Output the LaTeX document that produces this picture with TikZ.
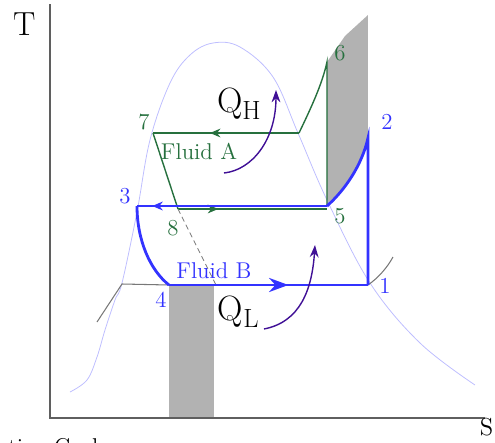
\documentclass[tikz,border=0pt]{standalone}
\usetikzlibrary{arrows.meta,decorations.markings}

\definecolor{cyblue}{RGB}{51,51,255}
\definecolor{cygreen}{RGB}{38,112,62}
\definecolor{cydome}{RGB}{190,190,255}
\definecolor{cyshade}{RGB}{178,178,178}
\definecolor{cyheat}{RGB}{64,16,150}
\definecolor{cyaxis}{RGB}{95,95,95}
\definecolor{cyiso}{RGB}{120,120,120}

\begin{document}
\begin{tikzpicture}[
  x=0.02cm,
  y=-0.02cm,
  every node/.style={inner sep=0pt, outer sep=0pt},
  numA/.style={font=\fontsize{13}{13}\selectfont, text=cygreen},
  numB/.style={font=\fontsize{13}{13}\selectfont, text=cyblue},
  axislabel/.style={font=\fontsize{19}{19}\selectfont, text=black},
  qlabel/.style={font=\fontsize{20}{20}\selectfont, text=black, anchor=base west},
  fluid/.style={font=\fontsize{13}{13}\selectfont},
  axis/.style={draw=cyaxis, line width=0.9pt},
  dome/.style={draw=cydome, line width=0.45pt},
  shade/.style={fill=cyshade, draw=none},
  cycA/.style={draw=cygreen, line width=0.8pt},
  cycB/.style={draw=cyblue, line width=1.6pt},
  iso/.style={draw=cyiso, line width=0.6pt},
  heat/.style={draw=cyheat, line width=0.8pt, -{Stealth[length=7pt, width=5pt]}},
  midarrow/.style={postaction={decorate}, decoration={markings,
      mark=at position #1 with {\arrow{Stealth[length=6pt, width=5pt]}}}},
  bigarrow/.style={postaction={decorate}, decoration={markings,
      mark=at position #1 with {\arrow{Stealth[length=11pt, width=8pt]}}}}
]

  \path[use as bounding box] (0,0) rectangle (495,443);

  % State points
  \coordinate (p1) at (368,285);
  \coordinate (p2) at (368,138);
  \coordinate (p3) at (137,206);
  \coordinate (p4) at (169,285);
  \coordinate (p5) at (327,206);
  \coordinate (p6) at (327,62);
  \coordinate (p7) at (153,133);
  \coordinate (p8) at (178,209);
  \coordinate (p5a) at (327,209);
  \coordinate (knee) at (299,133);

  % Shaded areas
  \fill[shade] (p4) rectangle (214,418);
  \fill[shade] (p5) -- (p6) -- (345,36) -- (368,15) -- (p2)
    .. controls (362,165) and (345,190) .. (p5) -- cycle;

  % Axes
  \coordinate (origin) at (50,418);
  \draw[axis] (50,4) -- (origin) -- (485,418);
  \node[axislabel, anchor=base west] (tlab) at (13,35) {T};
  \node[font=\fontsize{14}{14}\selectfont, anchor=base west] (slab) at (480,436) {S};

  % Saturation dome
  \draw[dome] plot[smooth, tension=0.6] coordinates {(70,392) (87,380) (97,357)
    (105,330) (115,300) (122,283) (137,212) (150,140) (170,83) (190,55)
    (213,43) (240,47) (273,77) (298,133) (327,200) (370,283) (420,343) (475,385)};

  % Constant pressure lines
  \draw[iso] (p4) -- (122,284) -- (97,322);
  \draw[iso] (p1) .. controls (378,278) and (387,268) .. (393,257);

  % Fluid A
  \draw[cycA] (p5) -- (p6) .. controls (322,85) and (310,110) .. (knee);
  \draw[cycA, midarrow=0.61] (knee) -- (p7);
  \draw[cycA] (p7) -- (p8);
  \draw[cycA, midarrow=0.27] (p8) -- (p5a);
  \draw[cyiso, line width=0.5pt, dashed, dash pattern=on 3pt off 2pt] (p8) -- (216,285);

  % Fluid B
  \draw[cycB, midarrow=0.92] (p5) -- (p3);
  \draw[cycB] (p3) .. controls (137,240) and (150,270) .. (p4);
  \draw[cycB, bigarrow=0.6] (p4) -- (p1);
  \draw[cycB] (p1) -- (p2) .. controls (362,165) and (345,190) .. (p5);

  % Point labels
  \node[numB] (n1) at (385,286) {1};
  \node[numB] (n2) at (387,122) {2};
  \node[numB] (n3) at (125,196) {3};
  \node[numB] (n4) at (161,300) {4};
  \node[numA] (n5) at (340,216) {5};
  \node[numA] (n6) at (340,53) {6};
  \node[numA] (n7) at (144,122) {7};
  \node[numA] (n8) at (173,228) {8};

  \node[fluid, text=cygreen] (fa) at (199,151) {Fluid A};
  \node[fluid, text=cyblue] (fb) at (214,271) {Fluid B};

  % Heat flows
  \node[qlabel] (qh) at (217,112) {Q\raisebox{-4pt}{\fontsize{15}{15}\selectfont H}};
  \node[qlabel] (ql) at (218,320) {Q\raisebox{-4pt}{\fontsize{15}{15}\selectfont L}};
  \coordinate (qh0) at (224,173);
  \coordinate (qh1) at (276,90);
  \coordinate (ql0) at (264,329);
  \coordinate (ql1) at (315,245);
  \draw[heat] (qh0) .. controls (252,170) and (276,140) .. (qh1);
  \draw[heat] (ql0) .. controls (300,322) and (312,290) .. (ql1);

  % Caption
  \node[font=\fontsize{13}{13}\selectfont, anchor=base west] (cap) at (-81,454) {Refrigeration Cycle};

\end{tikzpicture}
\end{document}
